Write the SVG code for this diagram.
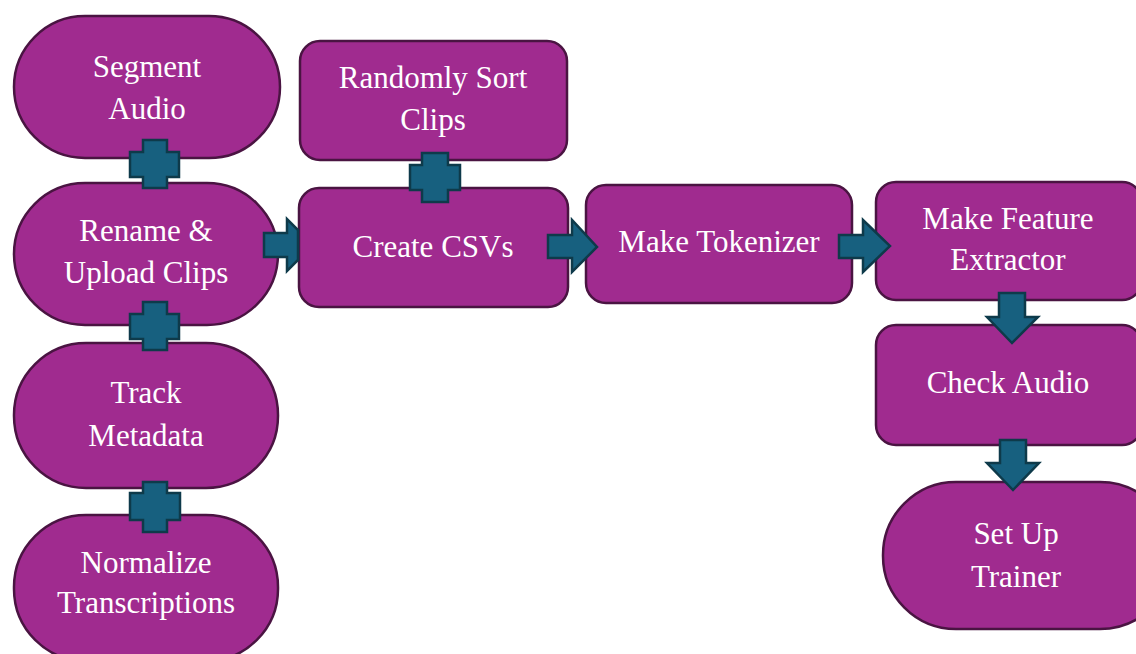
<svg xmlns="http://www.w3.org/2000/svg" width="1136" height="654" viewBox="0 0 1136 654">
<style>
.n{fill:#A02B8F;stroke:#4A1442;stroke-width:2.5}
.t{font-family:"Liberation Serif","Times New Roman",serif;font-size:31px;fill:#FFFFFF;text-anchor:middle}
.c{fill:#17607F;stroke:#0E3A4A;stroke-width:2.5;stroke-linejoin:miter}
</style>
<rect width="1136" height="654" fill="#FFFFFF"/>
<g id="segment-audio"><rect class="n" x="14" y="16" width="266" height="142" rx="71" ry="71"/><text class="t" x="147" y="77">Segment</text><text class="t" x="147" y="119">Audio</text></g>
<g id="rename-upload"><rect class="n" x="14" y="183" width="264" height="142" rx="71" ry="71"/><text class="t" x="146" y="241">Rename &amp;</text><text class="t" x="146" y="283">Upload Clips</text></g>
<g id="track-metadata"><rect class="n" x="14" y="343" width="264" height="145" rx="72" ry="72"/><text class="t" x="146" y="403">Track</text><text class="t" x="146" y="446">Metadata</text></g>
<g id="normalize"><rect class="n" x="14" y="515" width="264" height="146" rx="72" ry="72"/><text class="t" x="146" y="573">Normalize</text><text class="t" x="146" y="613">Transcriptions</text></g>
<g id="randomly-sort"><rect class="n" x="300" y="41" width="267" height="119" rx="20" ry="20"/><text class="t" x="433" y="88">Randomly Sort</text><text class="t" x="433" y="130">Clips</text></g>
<g id="create-csvs"><rect class="n" x="299" y="188" width="269" height="119" rx="20" ry="20"/><text class="t" x="433" y="257">Create CSVs</text></g>
<g id="make-tokenizer"><rect class="n" x="586" y="185" width="266" height="118" rx="20" ry="20"/><text class="t" x="719" y="252">Make Tokenizer</text></g>
<g id="feature-extractor"><rect class="n" x="876" y="182" width="266" height="118" rx="20" ry="20"/><text class="t" x="1008" y="229">Make Feature</text><text class="t" x="1008" y="270">Extractor</text></g>
<g id="check-audio"><rect class="n" x="876" y="325" width="266" height="120" rx="20" ry="20"/><text class="t" x="1008" y="393">Check Audio</text></g>
<g id="set-up-trainer"><rect class="n" x="883" y="482" width="290" height="147" rx="73" ry="73"/><text class="t" x="1016" y="544">Set Up</text><text class="t" x="1016" y="587">Trainer</text></g>
<g id="connectors">
<path class="c" d="M143,140 H167 V152 H179 V177 H167 V188 H143 V177 H130 V152 H143 Z"/>
<path class="c" d="M143,302 H167 V314 H179 V339 H167 V350 H143 V339 H130 V314 H143 Z"/>
<path class="c" d="M143,482 H167 V493 H180 V520 H167 V532 H143 V520 H130 V493 H143 Z"/>
<path class="c" d="M422,153 H448 V165 H460 V190 H448 V202 H422 V190 H410 V165 H422 Z"/>
<path class="c" d="M264,233 H287 V219 L298,230 V260 L287,271 V257 H264 Z"/>
<path class="c" d="M548,235 H572 V220 L597,247 L572,272 V258 H548 Z"/>
<path class="c" d="M839,235 H863 V220 L890,246 L863,272 V258 H839 Z"/>
<path class="c" d="M999,293 H1025 V317 H1038 L1012,343 L987,317 H999 Z"/>
<path class="c" d="M1000,440 H1026 V463 H1039 L1013,490 L987,463 H1000 Z"/>
</g>
</svg>
